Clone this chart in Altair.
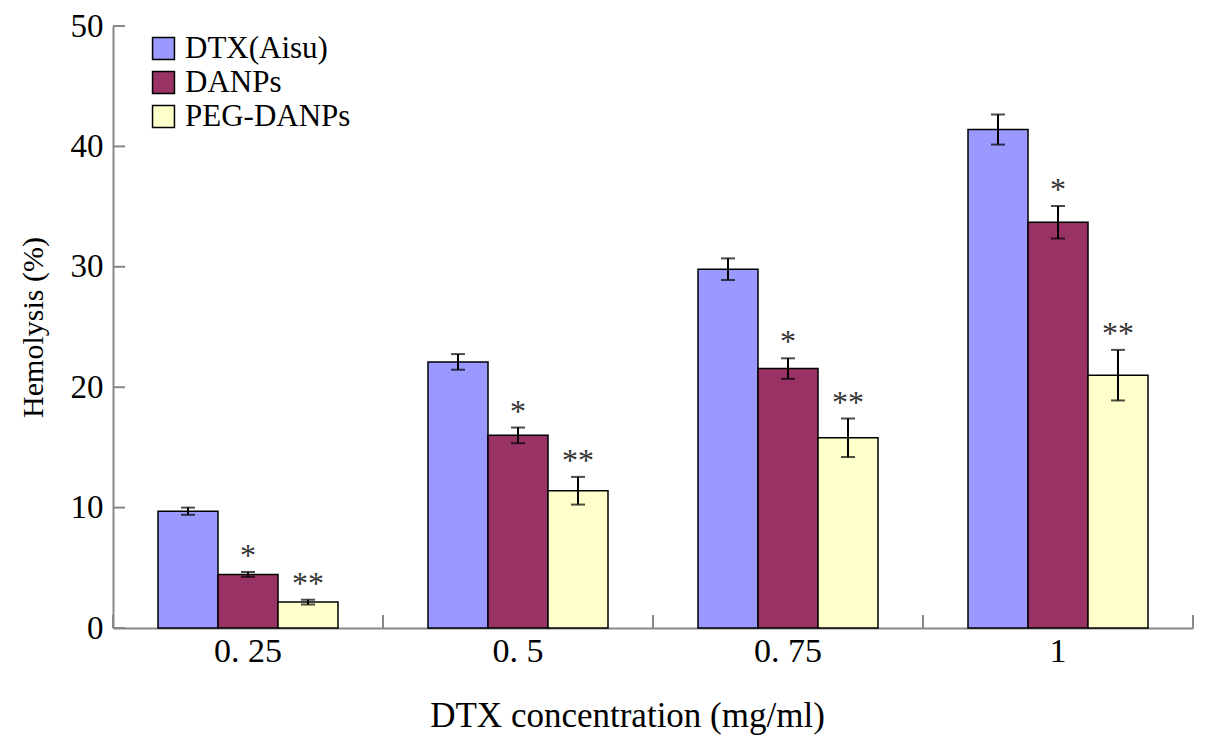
import altair as alt
import pandas as pd

# values
concs = ["0. 25", "0. 5", "0. 75", "1"]
groups = ["DTX(Aisu)", "DANPs", "PEG-DANPs"]
colors = ["#9999FF", "#993366", "#FFFFCC"]

dtx_mean = [9.7, 22.1, 29.8, 41.4]
dtx_err = [0.3, 0.65, 0.9, 1.25]
danps_mean = [4.45, 16.0, 21.55, 33.7]
danps_err = [0.2, 0.65, 0.85, 1.35]
peg_mean = [2.15, 11.4, 15.8, 21.0]
peg_err = [0.2, 1.15, 1.6, 2.1]
sig = ["", "*", "**"]

y_ticks = [0, 10, 20, 30, 40, 50]

rows = []
for g, means, errs, s in zip(groups, [dtx_mean, danps_mean, peg_mean],
                             [dtx_err, danps_err, peg_err], sig):
    for c, m, e in zip(concs, means, errs):
        rows.append({"conc": c, "group": g, "mean": m, "lo": m - e, "hi": m + e, "sig": s})
df = pd.DataFrame(rows)

W, H = 1080, 602
FONT = "Liberation Serif"

x = alt.X("conc:N", sort=concs, scale=alt.Scale(paddingInner=0, paddingOuter=0),
          axis=alt.Axis(title="DTX concentration (mg/ml)", labelAngle=0, ticks=False,
                        labelPadding=6, titlePadding=30, labelFontSize=34, titleFontSize=35,
                        titleX=514))
xoff = alt.XOffset("group:N", sort=groups, scale=alt.Scale(paddingInner=0, paddingOuter=0.75))
y = alt.Y("mean:Q", scale=alt.Scale(domain=[0, 50]),
          axis=alt.Axis(title="Hemolysis (%)", values=y_ticks, ticks=False, grid=False,
                        labelPadding=10, titlePadding=22, labelFontSize=33, titleFontSize=30))

bars = alt.Chart(df).mark_bar(stroke="black", strokeWidth=1.5).encode(
    x=x, xOffset=xoff, y=y,
    color=alt.Color("group:N", sort=groups,
                    scale=alt.Scale(domain=groups, range=colors),
                    legend=alt.Legend(title=None, orient="none", legendX=35, legendY=7,
                                      symbolType="square", symbolSize=480,
                                      symbolStrokeColor="black", symbolStrokeWidth=1.5,
                                      labelFontSize=31, labelFont=FONT, rowPadding=2,
                                      labelOffset=6, labelLimit=400)),
)

err = alt.Chart(df).mark_rule(color="black", strokeWidth=2).encode(
    x="conc:N", xOffset=xoff, y="lo:Q", y2="hi:Q")
cap_lo = alt.Chart(df).mark_tick(color="black", size=14, thickness=2).encode(
    x="conc:N", xOffset=xoff, y="lo:Q")
cap_hi = alt.Chart(df).mark_tick(color="black", size=14, thickness=2).encode(
    x="conc:N", xOffset=xoff, y="hi:Q")
stars = alt.Chart(df).mark_text(font=FONT, fontSize=32, dy=-6, baseline="alphabetic",
                                color="#333333").encode(
    x="conc:N", xOffset=xoff, y="hi:Q", text="sig:N")

# inward ticks
tick_df = pd.DataFrame({"v": y_ticks})
yticks = alt.Chart(tick_df).mark_rule(color="#888888", strokeWidth=2).encode(
    y="v:Q", x=alt.value(0), x2=alt.value(12))
conc_df = pd.DataFrame({"conc": concs})
xticks0 = alt.Chart(conc_df).mark_rule(color="#888888", strokeWidth=2).encode(
    x=alt.X("conc:N", sort=concs, bandPosition=0), y=alt.value(H - 13), y2=alt.value(H))
xticks1 = alt.Chart(conc_df).mark_rule(color="#888888", strokeWidth=2).encode(
    x=alt.X("conc:N", sort=concs, bandPosition=1), y=alt.value(H - 13), y2=alt.value(H))

chart = alt.layer(bars, err, cap_lo, cap_hi, stars, yticks, xticks0, xticks1).properties(
    width=W, height=H,
    autosize=alt.AutoSizeParams(type="none"),
    padding={"left": 105, "top": 18, "right": 4, "bottom": 116},
).configure_axis(
    labelFont=FONT, titleFont=FONT, labelColor="black", titleColor="black",
    titleFontWeight="normal", domainColor="#888888", domainWidth=2,
).configure_view(stroke=None)

chart.save("out.html", embed_options={"renderer": "svg", "actions": False})
